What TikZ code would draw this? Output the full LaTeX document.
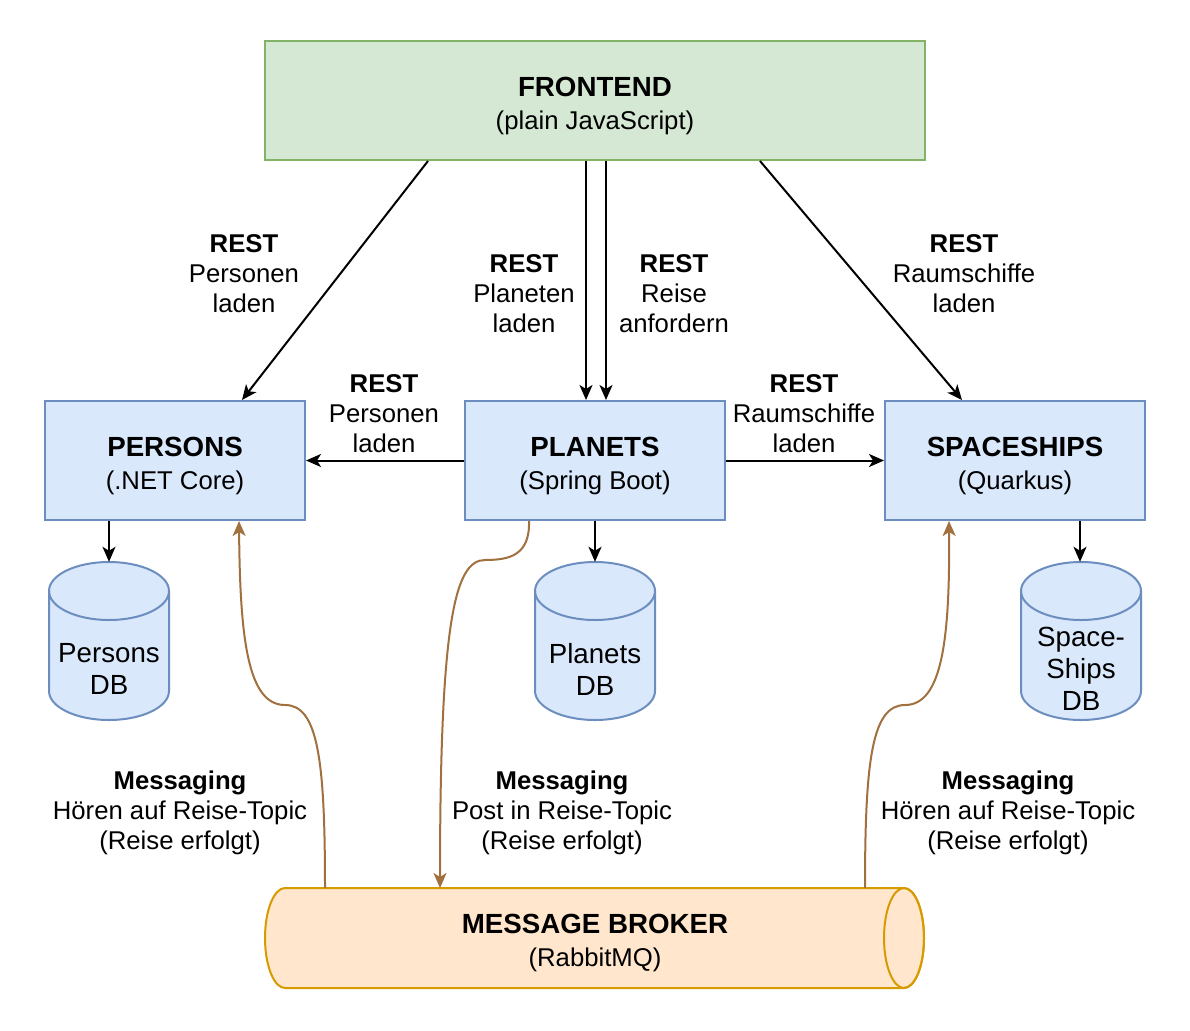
\documentclass[tikz,border=0pt]{standalone}
\usepackage{fontspec}
\setmainfont{Liberation Sans}
\usetikzlibrary{arrows.meta}
\definecolor{gfill}{HTML}{D5E8D4}
\definecolor{gline}{HTML}{82B366}
\definecolor{bfill}{HTML}{DAE8FC}
\definecolor{bline}{HTML}{6C8EBF}
\definecolor{ofill}{HTML}{FFE6CC}
\definecolor{oline}{HTML}{D79B00}
\definecolor{brown}{HTML}{A0703F}
\tikzset{
  tip/.tip={Stealth[length=15pt,width=13pt,inset=4pt]},
  greenbox/.style={draw=gline,fill=gfill,line width=2pt,minimum width=660pt,minimum height=119pt,inner sep=0pt,align=center,
    font=\fontsize{25.7}{33}\selectfont},
  bluebox/.style={draw=bline,fill=bfill,line width=2pt,minimum width=260pt,minimum height=119pt,inner sep=0pt,align=center,
    font=\fontsize{25.7}{33}\selectfont},
  dbnode/.style={minimum width=120pt,minimum height=158pt,inner sep=0pt},
  dbtext/.style={inner sep=0pt,align=center,font=\fontsize{27.7}{32}\selectfont},
  dbshape/.style={draw=bline,fill=bfill,line width=2pt},
  lbl/.style={inner sep=0pt,align=center,font=\fontsize{25.7}{30}\selectfont},
  rest/.style={-tip,line width=2pt,black},
  msg/.style={-tip,line width=2pt,brown},
}
\newcommand{\hd}[1]{{\fontsize{27.7}{33}\selectfont\bfseries\rule{0pt}{30pt}#1}}
\newcommand{\lh}[1]{\rule{0pt}{23pt}\textbf{#1}}
\newcommand{\mydbcyl}[2]{%
  \path[dbshape] (#1-60,#2+29) -- (#1-60,#2+129)
     arc[start angle=180,end angle=0,x radius=60,y radius=29]
     -- (#1+60,#2+29)
     arc[start angle=0,end angle=-180,x radius=60,y radius=29] -- cycle;
  \draw[dbshape,fill=none] (#1-60,#2+29) arc[start angle=180,end angle=0,x radius=60,y radius=29];
}
\begin{document}
\begin{tikzpicture}[x=1pt,y=-1pt]
\fill[white] (0,0) rectangle (1190,1030);
\useasboundingbox (0,0) rectangle (1190,1030);

% boxes
\node[greenbox] (fe) at (595,100.5) {\hd{FRONTEND}\\(plain JavaScript)};
\node[bluebox] (ps) at (175,460.5) {\hd{PERSONS}\\(.NET Core)};
\node[bluebox] (pl) at (595,460.5) {\hd{PLANETS}\\(Spring Boot)};
\node[bluebox] (ss) at (1015,460.5) {\hd{SPACESHIPS}\\(Quarkus)};

% databases
\mydbcyl{109}{562}
\mydbcyl{595}{562}
\mydbcyl{1081}{562}
\node[dbnode] (pdb) at (109,641) {};
\node[dbnode] (pldb) at (595,641) {};
\node[dbnode] (sdb) at (1081,641) {};
\node[dbtext] at (109,669) {Persons\\DB};
\node[dbtext] at (595,669) {Planets\\DB};
\node[dbtext] at (1081,669) {Space-\\Ships\\DB};

% message broker
\path[draw=oline,fill=ofill,line width=2pt] (285,888) -- (904,888)
  arc[start angle=-90,end angle=90,x radius=20,y radius=50] -- (285,988)
  arc[start angle=90,end angle=270,x radius=20,y radius=50] -- cycle;
\draw[draw=oline,line width=2pt] (904,938) ellipse[x radius=20,y radius=50];
\node[inner sep=0pt,minimum width=659pt,minimum height=100pt,align=center,font=\fontsize{25.7}{33}\selectfont] (mb) at (595,938) {\hd{MESSAGE BROKER}\\(RabbitMQ)};
\coordinate (b1) at (325,888);
\coordinate (b2) at (440,888);
\coordinate (b3) at (865,888);

% REST connectors
\draw[rest] ([xshift=164]fe.south west) -- ([xshift=198]ps.north west);
\draw[rest] ([xshift=322]fe.south west) -- ([xshift=122]pl.north west);
\draw[rest] ([xshift=342]fe.south west) -- ([xshift=142]pl.north west);
\draw[rest] ([xshift=496]fe.south west) -- ([xshift=78]ss.north west);
\draw[rest] (pl.west) -- (ps.east);
\draw[rest] (pl.east) -- (ss.west);
\draw[rest] (pdb.north |- ps.south) -- (pdb.north);
\draw[rest] (pldb.north |- pl.south) -- (pldb.north);
\draw[rest] ([xshift=-1]sdb.north |- ss.south) -- ([xshift=-1]sdb.north);

% messaging connectors
\draw[msg] (b1) .. controls (325,760) and (318,705) .. (285,705)
  .. controls (248,705) and (240,640) .. ([xshift=195]ps.south west);
\draw[msg] ([xshift=65]pl.south west) .. controls (530,555) and (510,560) .. (485,560)
  .. controls (455,560) and (440,620) .. (b2);
\draw[msg] (b3) .. controls (865,760) and (872,705) .. (905,705)
  .. controls (942,705) and (950,640) .. ([xshift=65]ss.south west);

% labels
\node[lbl] at (244,271) {\lh{REST}\\Personen\\laden};
\node[lbl] at (524,291) {\lh{REST}\\Planeten\\laden};
\node[lbl] at (674,291) {\lh{REST}\\Reise\\anfordern};
\node[lbl] at (964,271) {\lh{REST}\\Raumschiffe\\laden};
\node[lbl] at (384,411) {\lh{REST}\\Personen\\laden};
\node[lbl] at (804,411) {\lh{REST}\\Raumschiffe\\laden};
\node[lbl] at (180,811) {\lh{Messaging}\\Hören auf Reise-Topic\\(Reise erfolgt)};
\node[lbl] at (562,811) {\lh{Messaging}\\Post in Reise-Topic\\(Reise erfolgt)};
\node[lbl] at (1008,811) {\lh{Messaging}\\Hören auf Reise-Topic\\(Reise erfolgt)};
\end{tikzpicture}
\end{document}
